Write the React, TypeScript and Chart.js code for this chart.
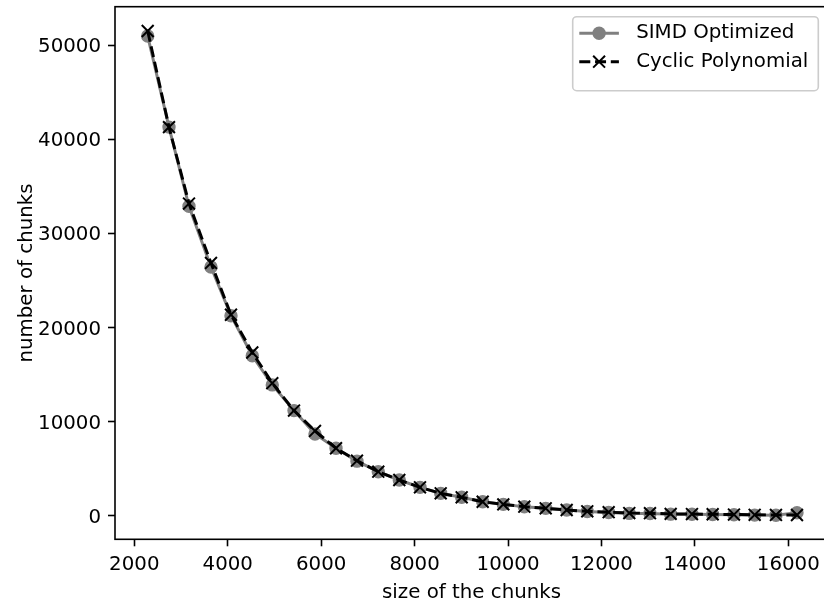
import React, { useEffect, useRef } from "react";
import { Chart, registerables } from "chart.js";

Chart.register(...registerables);

// ---- data ----
const chunkSizes = [
  2287, 2743, 3171, 3642, 4070, 4526, 4954, 5419, 5868, 6318, 6767, 7223, 7673, 8116, 8559, 9008,
  9458, 9899, 10349, 10807, 11256, 11697, 12155, 12596, 13039, 13482, 13938, 14381, 14837, 15280,
  15736, 16186,
];
const simdCounts = [
  50950, 41280, 32870, 26430, 21250, 16990, 13900, 11170, 8690, 7170, 5800, 4680, 3800, 3020, 2380,
  1960, 1490, 1210, 960, 790, 610, 460, 350, 250, 240, 170, 160, 140, 100, 70, 60, 320,
];
const cyclicCounts = [
  51490, 41280, 33160, 26850, 21350, 17340, 14085, 11170, 9010, 7170, 5850, 4680, 3800, 3020, 2380,
  1960, 1490, 1210, 960, 790, 610, 470, 380, 290, 270, 200, 180, 160, 130, 100, 90, 80,
];
const xTickValues = [2000, 4000, 6000, 8000, 10000, 12000, 14000, 16000];
const yTickValues = [0, 10000, 20000, 30000, 40000, 50000];
const seriesNames = ["SIMD Optimized", "Cyclic Polynomial"];
const xAxisTitle = "size of the chunks";
const yAxisTitle = "number of chunks";

const FONT = "'DejaVu Sans', 'Liberation Sans', sans-serif";
const FS = 19.8;
const LW = 2.97;
const DASH = [11, 4.75];
const W = 824;
const H = 601;
const CW = 836; // canvas is a little wider: the reference picture crops the right spine

const framePlugin = {
  id: "mplFrame",
  afterDatasetsDraw(chart: any) {
    const { ctx, chartArea } = chart;
    ctx.save();
    ctx.strokeStyle = "#000";
    ctx.lineWidth = 1.6;
    ctx.strokeRect(chartArea.left, chartArea.top, chartArea.right - chartArea.left, chartArea.bottom - chartArea.top);
    ctx.restore();
  },
};

const legendPlugin = {
  id: "mplLegend",
  afterDraw(chart: any) {
    const { ctx, chartArea } = chart;
    const w = 245.6;
    const h = 74;
    const x0 = chartArea.right - 9.7 - w;
    const y0 = chartArea.top + 10;
    ctx.save();
    const r = 4;
    ctx.beginPath();
    ctx.moveTo(x0 + r, y0);
    ctx.lineTo(x0 + w - r, y0);
    ctx.arcTo(x0 + w, y0, x0 + w, y0 + r, r);
    ctx.lineTo(x0 + w, y0 + h - r);
    ctx.arcTo(x0 + w, y0 + h, x0 + w - r, y0 + h, r);
    ctx.lineTo(x0 + r, y0 + h);
    ctx.arcTo(x0, y0 + h, x0, y0 + h - r, r);
    ctx.lineTo(x0, y0 + r);
    ctx.arcTo(x0, y0, x0 + r, y0, r);
    ctx.closePath();
    ctx.fillStyle = "rgba(255,255,255,0.8)";
    ctx.fill();
    ctx.strokeStyle = "#cccccc";
    ctx.lineWidth = 1.6;
    ctx.stroke();

    const ds = chart.data.datasets;
    const rows = [y0 + 16.6, y0 + 45];
    const hx1 = x0 + 6.6;
    const hx2 = x0 + 46.2;
    const hc = (hx1 + hx2) / 2;
    // SIMD handle: solid grey line with a filled circle
    ctx.beginPath();
    ctx.setLineDash([]);
    ctx.strokeStyle = ds[0].borderColor;
    ctx.lineWidth = LW;
    ctx.moveTo(hx1, rows[0]);
    ctx.lineTo(hx2, rows[0]);
    ctx.stroke();
    ctx.beginPath();
    ctx.fillStyle = ds[0].pointBackgroundColor;
    ctx.arc(hc, rows[0], 6.7, 0, Math.PI * 2);
    ctx.fill();
    // Cyclic handle: dashed black line with an x
    ctx.beginPath();
    ctx.setLineDash(DASH);
    ctx.strokeStyle = ds[1].borderColor;
    ctx.lineWidth = LW;
    ctx.moveTo(hx1, rows[1]);
    ctx.lineTo(hx2, rows[1]);
    ctx.stroke();
    ctx.setLineDash([]);
    ctx.beginPath();
    ctx.lineWidth = 2;
    const m = 5.94;
    ctx.moveTo(hc - m, rows[1] - m);
    ctx.lineTo(hc + m, rows[1] + m);
    ctx.moveTo(hc - m, rows[1] + m);
    ctx.lineTo(hc + m, rows[1] - m);
    ctx.stroke();
    // labels
    ctx.fillStyle = "#000";
    ctx.font = `${FS}px ${FONT}`;
    ctx.textBaseline = "middle";
    ctx.textAlign = "left";
    ctx.fillText(ds[0].label, x0 + 63.5, rows[0]);
    ctx.fillText(ds[1].label, x0 + 63.5, rows[1]);
    ctx.restore();
  },
};

export default function App() {
  const ref = useRef<HTMLCanvasElement | null>(null);

  useEffect(() => {
    const canvas = ref.current;
    if (!canvas) return;
    const tickFont = { family: FONT, size: FS, lineHeight: 1.2 };
    const chart = new Chart(canvas, {
      type: "line",
      data: {
        datasets: [
          {
            label: seriesNames[0],
            data: chunkSizes.map((x, i) => ({ x, y: simdCounts[i] })),
            borderColor: "#808080",
            backgroundColor: "#808080",
            borderWidth: LW,
            pointStyle: "circle",
            pointRadius: 6,
            pointBorderWidth: 1.4,
            pointBackgroundColor: "#808080",
            pointBorderColor: "#808080",
            tension: 0,
            order: 1,
          },
          {
            label: seriesNames[1],
            data: chunkSizes.map((x, i) => ({ x, y: cyclicCounts[i] })),
            borderColor: "#000000",
            backgroundColor: "#000000",
            borderWidth: LW,
            borderDash: DASH,
            pointStyle: "crossRot",
            pointRadius: 8.4,
            pointBorderWidth: 2,
            pointBackgroundColor: "#000000",
            pointBorderColor: "#000000",
            tension: 0,
            order: 0,
          },
        ],
      },
      options: {
        animation: false,
        responsive: false,
        devicePixelRatio: 1,
        events: [],
        layout: { autoPadding: false, padding: { left: 0, top: 6.7, right: CW - 828, bottom: 0 } },
        plugins: { legend: { display: false }, tooltip: { enabled: false } },
        scales: {
          x: {
            type: "linear",
            min: 1587,
            max: 16850,
            afterBuildTicks: (s: any) => {
              s.ticks = xTickValues.map((v) => ({ value: v }));
            },
            afterFit: (s: any) => {
              s.height = 61.7;
              s.paddingLeft = 0;
              s.paddingRight = 0;
            },
            ticks: { font: tickFont, color: "#000", padding: 6.5, maxRotation: 0, autoSkip: false, callback: (v: any) => String(v) },
            grid: { drawOnChartArea: false, drawTicks: true, tickLength: 7, tickWidth: 1.6, tickColor: "#000" },
            border: { display: false },
            title: { display: true, text: xAxisTitle, font: tickFont, color: "#000", padding: { top: 0, bottom: -3.5 } },
          },
          y: {
            type: "linear",
            min: -2500,
            max: 54070,
            afterBuildTicks: (s: any) => {
              s.ticks = yTickValues.map((v) => ({ value: v }));
            },
            afterFit: (s: any) => {
              s.width = 115;
              s.paddingTop = 0;
              s.paddingBottom = 0;
            },
            ticks: { font: tickFont, color: "#000", padding: 7, labelOffset: 2, autoSkip: false, callback: (v: any) => String(v) },
            grid: { drawOnChartArea: false, drawTicks: true, tickLength: 7, tickWidth: 1.6, tickColor: "#000" },
            border: { display: false },
            title: { display: true, text: yAxisTitle, font: tickFont, color: "#000", padding: { top: 14.5, bottom: 0 } },
          },
        },
      },
      plugins: [framePlugin, legendPlugin],
    } as any);
    return () => chart.destroy();
  }, []);

  return (
    <div style={{ position: "fixed", left: 0, top: 0, width: W, height: H, background: "#fff", overflow: "hidden" }}>
      <canvas ref={ref} width={CW} height={H} style={{ display: "block", width: CW, height: H }} />
    </div>
  );
}
